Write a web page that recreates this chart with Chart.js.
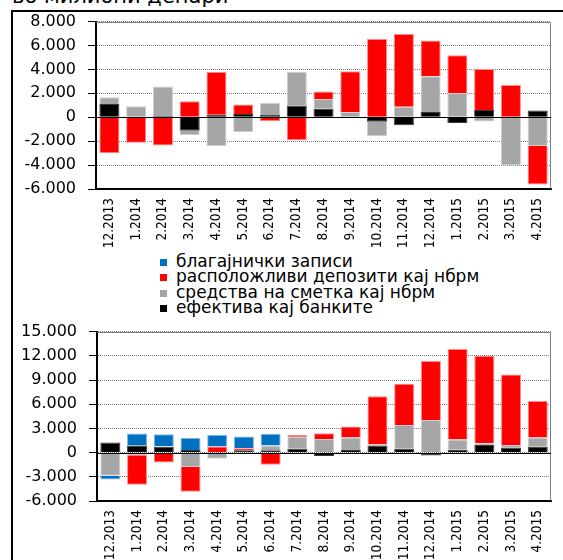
<!DOCTYPE html>
<html>
<head>
<meta charset="utf-8">
<script src="https://cdn.jsdelivr.net/npm/chart.js@4.4.1/dist/chart.umd.min.js"></script>
<style>
  html, body { margin: 0; padding: 0; background: #fff; width: 563px; height: 560px; overflow: hidden; }
  #frame { position: absolute; left: 11px; top: 10px; width: 600px; height: 600px; border-left: 2px solid #000; border-top: 2px solid #000; }
  #title { position: absolute; left: 12px; top: 0; width: 300px; height: 7px; overflow: hidden; }
  #title span { position: absolute; left: 0; top: -14px; font: 21px/21px "DejaVu Sans"; white-space: nowrap; color: #000; }
  canvas { position: absolute; left: 0; }
  #topChart { top: 0; }
  #bottomChart { top: 310px; }
  #legend { position: absolute; left: 160px; top: 254px; font: 17px/15.3px "DejaVu Sans"; color: #000; }
  #legend div { white-space: nowrap; }
  #legend i { display: inline-block; width: 7px; height: 7px; margin-right: 9px; vertical-align: 1px; }
</style>
</head>
<body>
<div id="title"><span>во милиони денари</span></div>
<div id="frame"></div>
<canvas id="topChart" width="563" height="250"></canvas>
<div id="legend"></div>
<canvas id="bottomChart" width="563" height="260"></canvas>
<script>
const months = ['12.2013', '1.2014', '2.2014', '3.2014', '4.2014', '5.2014', '6.2014', '7.2014', '8.2014',
  '9.2014', '10.2014', '11.2014', '12.2014', '1.2015', '2.2015', '3.2015', '4.2015'];

// series names, in stacking order (closest to zero first)
const names = ['ефектива кај банките', 'средства на сметка кај нбрм', 'расположливи депозити кај нбрм', 'благајнички записи'];
const colors = ['#000000', '#a6a6a6', '#ff0000', '#0070c0'];
const edges = ['#3a3a3a', '#cfcfcf', '#ff8a8a', '#7fb2e0'];

// top chart
const topCash = [1100, 0, 110, -1120, 220, 270, 190, 990, 710, 0, -380, -660, 440, -470, 600, 0, 570];
const topAccounts = [580, 930, 2470, -360, -2410, -1230, 1010, 2800, 820, 440, -1210, 880, 2990, 2030, -350, -4030, -2410];
const topDeposits = [-3000, -2140, -2360, 1340, 3560, 800, -330, -1920, 630, 3400, 6550, 6080, 2990, 3150, 3430, 2690, -3210];
const topBills = [0, 0, 0, 0, 0, 0, 0, 0, 0, 0, 0, 0, 0, 0, 0, 0, 0];
const topTicks = { min: -6000, max: 8000, step: 2000 };

// bottom chart
const botCash = [1260, 870, 710, 320, 0, 300, 280, 470, -430, 320, 870, 470, -360, 360, 950, 590, 710];
const botAccounts = [-2880, -320, 80, -1780, -750, 0, 590, 1500, 1700, 1540, 120, 2960, 4030, 1260, 200, 360, 1150];
const botDeposits = [0, -3670, -1230, -3080, 750, 250, -1500, 220, 710, 1380, 6000, 5090, 7340, 11220, 10860, 8720, 4540];
const botBills = [-470, 1500, 1500, 1500, 1420, 1460, 1460, 0, 0, 0, 0, 0, 0, 0, 0, 0, 0];
const botTicks = { min: -6000, max: 15000, step: 3000 };

const fmt = v => String(v).replace(/\B(?=(\d{3})+(?!\d))/g, '.');

const frameLines = {
  id: 'frameLines',
  beforeDatasetsDraw(chart) {
    const { ctx, chartArea: a } = chart;
    ctx.save();
    ctx.strokeStyle = '#7f7f7f';
    ctx.lineWidth = 1;
    ctx.beginPath();
    ctx.moveTo(a.left, Math.round(a.top) + 0.5);
    ctx.lineTo(Math.round(a.right) - 0.5, Math.round(a.top) + 0.5);
    ctx.lineTo(Math.round(a.right) - 0.5, a.bottom);
    ctx.stroke();
    ctx.restore();
  },
  afterDatasetsDraw(chart) {
    const { ctx, chartArea: a, scales: { y } } = chart;
    const py = Math.round(y.getPixelForValue(0)) + 0.5;
    ctx.save();
    ctx.strokeStyle = '#000';
    ctx.lineWidth = 1;
    ctx.beginPath();
    ctx.moveTo(a.left, py);
    ctx.lineTo(a.right, py);
    ctx.stroke();
    ctx.restore();
  }
};

function makeChart(id, series, t, pad, yWidth, xHeight) {
  return new Chart(document.getElementById(id), {
    type: 'bar',
    data: {
      labels: months,
      datasets: series.map((d, i) => ({
        label: names[i],
        data: d,
        backgroundColor: colors[i],
        borderColor: edges[i],
        borderWidth: 1,
        barPercentage: 0.75,
        categoryPercentage: 1
      }))
    },
    options: {
      responsive: false,
      animation: false,
      layout: { padding: pad },
      plugins: { legend: { display: false }, tooltip: { enabled: false } },
      scales: {
        x: {
          stacked: true,
          grid: { display: false, drawTicks: false },
          border: { color: '#000', width: 2 },
          ticks: {
            autoSkip: false, minRotation: 90, maxRotation: 90, padding: 9, color: '#000',
            font: { family: 'DejaVu Sans Condensed', size: 13.5 }
          },
          afterFit(s) { s.height = xHeight; }
        },
        y: {
          stacked: true,
          min: t.min,
          max: t.max,
          ticks: {
            stepSize: t.step, padding: 12, color: '#000',
            font: { family: 'DejaVu Sans', size: 16 },
            callback: v => fmt(v)
          },
          grid: { color: '#808080', lineWidth: 1, tickColor: '#000', tickLength: 8 },
          border: { color: '#000', width: 2, dash: [1, 1] },
          afterFit(s) { s.width = yWidth; }
        }
      }
    },
    plugins: [frameLines]
  });
}

makeChart('topChart', [topCash, topAccounts, topDeposits, topBills], topTicks,
  { top: 19, right: 4, left: 0, bottom: 0 }, 96, 61);
makeChart('bottomChart', [botCash, botAccounts, botDeposits, botBills], botTicks,
  { top: 14, right: 1, left: 0, bottom: 0 }, 97, 69);

const legend = document.getElementById('legend');
for (let i = names.length - 1; i >= 0; i--) {
  const row = document.createElement('div');
  const box = document.createElement('i');
  box.style.background = colors[i];
  row.appendChild(box);
  row.appendChild(document.createTextNode(names[i]));
  legend.appendChild(row);
}
</script>
</body>
</html>
